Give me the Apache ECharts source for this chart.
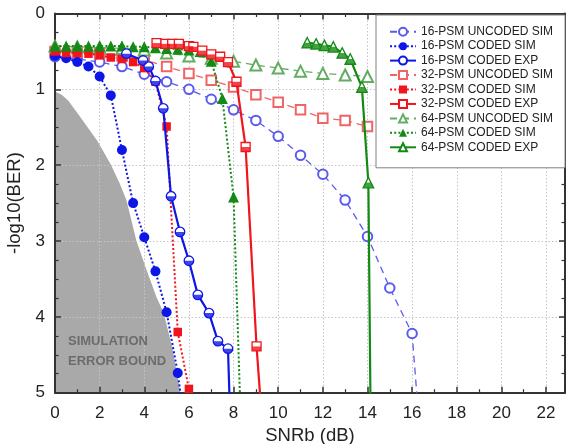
<!DOCTYPE html>
<html><head><meta charset="utf-8">
<script src="https://cdn.jsdelivr.net/npm/echarts@6/dist/echarts.min.js"></script>
<style>html,body{margin:0;padding:0;background:#fff}#c{width:566px;height:444px}</style>
</head><body><div id="c"></div>
<script>
// ---- tick labels ----
const xTickLabels = ['0','2','4','6','8','10','12','14','16','18','20','22'];
const yTickLabels = ['0','1','2','3','4','5'];

// ---- simulation error bound (gray region boundary) ----
const boundX = [0, 0.3, 0.6, 1.1, 1.9, 2.5, 2.9, 3.2, 3.65, 4.1, 4.55, 4.87, 5.25, 5.62];
const boundY = [1.03, 1.07, 1.15, 1.35, 1.68, 1.99, 2.24, 2.46, 3.0, 3.38, 3.74, 3.95, 4.4, 5.0];

// ---- 16-PSM ----
const u16X = [0,1,2,3,4,5,6,7,8,9,10,11,12,13,14,15,16,17];
const u16Y = [0.57,0.6,0.64,0.7,0.8,0.9,1.0,1.13,1.27,1.41,1.62,1.87,2.12,2.46,2.94,3.62,4.22,8.0];
const c16X = [0,0.5,1,1.5,2,2.5,3,3.5,4,4.5,5,5.5,6];
const c16Y = [0.56,0.59,0.64,0.70,0.83,1.08,1.80,2.50,2.95,3.40,3.94,4.74,5.82];
const e16X = [3.2,3.95,4.2,4.5,4.85,5.2,5.6,6.0,6.4,6.9,7.3,7.75,7.92];
const e16Y = [0.53,0.62,0.7,0.89,1.25,2.41,2.88,3.26,3.71,3.95,4.32,4.42,6.0];

// ---- 32-PSM ----
const u32X = [0,1,2,3,4,5,6,7,8,9,10,11,12,13,14];
const u32Y = [0.5,0.51,0.53,0.56,0.61,0.7,0.79,0.88,0.97,1.07,1.17,1.27,1.38,1.41,1.49];
const c32X = [0,0.5,1,1.5,2,2.5,3,3.5,4,4.5,5,5.5,6];
const c32Y = [0.5,0.52,0.52,0.53,0.55,0.58,0.6,0.64,0.72,0.9,1.49,4.2,4.95];
const e32X = [4.55,4.95,5.25,5.55,6.0,6.2,6.6,7.0,7.4,7.75,8.13,8.54,9.03,9.43];
const e32Y = [0.39,0.4,0.4,0.4,0.43,0.44,0.49,0.54,0.57,0.64,0.9,1.76,4.39,6.0];

// ---- 64-PSM ----
const u64X = [0,1,2,3,4,5,6,7,8,9,10,11,12,13,14];
const u64Y = [0.43,0.44,0.45,0.46,0.48,0.52,0.56,0.59,0.63,0.68,0.72,0.76,0.79,0.81,0.83];
const c64X = [0,0.5,1,1.5,2,2.5,3,3.5,4,4.5,5,5.5,6,6.5,7,7.5,8,8.5];
const c64Y = [0.43,0.43,0.43,0.43,0.43,0.43,0.43,0.44,0.44,0.45,0.46,0.47,0.48,0.5,0.63,1.12,2.42,7.0];
const e64X = [11.3,11.7,12.07,12.47,12.87,13.23,13.75,14.04,14.17];
const e64Y = [0.385,0.4,0.42,0.44,0.52,0.6,0.97,2.23,6.2];

const names = ['16-PSM UNCODED SIM','16-PSM CODED SIM','16-PSM CODED EXP',
               '32-PSM UNCODED SIM','32-PSM CODED SIM','32-PSM CODED EXP',
               '64-PSM UNCODED SIM','64-PSM CODED SIM','64-PSM CODED EXP'];

const FONT = '"Liberation Sans", Arial, sans-serif';
const BLUE='#0c16e6', RED='#f0141c', GREEN='#138a13';
const BLUE_L='#5a5aee', RED_L='#ef6464', GREEN_L='#62ad62';
const pts = (xs, ys) => xs.map((x, i) => [x, ys[i]]);

function halfDisk(){
  let s = 'path://M20,0';
  for (let i = 1; i <= 16; i++) { const t = Math.PI * i / 16; s += ' L' + (10 + 10*Math.cos(t)).toFixed(3) + ',' + (10*Math.sin(t)).toFixed(3); }
  return s + ' Z';
}
const HALF = { circle: halfDisk(), rect: 'path://M0,0 L20,0 L20,10 L0,10 Z', triangle: 'path://M5,0 L15,0 L20,10 L0,10 Z' };

function uncoded(name, xs, ys, color, sym){
  return { name, type:'line', data: pts(xs, ys), symbol: 'empty' + sym[0].toUpperCase() + sym.slice(1), symbolSize: sym==='triangle'?11:9.5,
    lineStyle:{color, width:1.3, type:[7,5]}, itemStyle:{color, borderWidth:1.1}, z:2 };
}
function codedSim(name, xs, ys, color, sym, size){
  return { name, type:'line', data: pts(xs, ys), symbol: sym, symbolSize: size,
    lineStyle:{color, width:2, type:[2,2.2]}, itemStyle:{color}, z:3 };
}
function codedExp(name, xs, ys, color, sym, size){
  return [
    { name, type:'line', data: pts(xs, ys), symbol: sym, symbolSize: size,
      lineStyle:{color, width:2.2, type:'solid'}, itemStyle:{color:'#fff', borderColor:color, borderWidth:1.3}, z:4 },
    { name: name + ' (fill)', type:'scatter', data: pts(xs, ys), symbol: HALF[sym], symbolSize:[size, size/2],
      symbolOffset:[0, size/4], itemStyle:{color}, z:5, silent:true }
  ];
}

const series = [
  { name:'bound', type:'line', data: pts(boundX, boundY), symbol:'none', lineStyle:{width:0},
    areaStyle:{color:'#a9a9a9', opacity:1, origin:'end'}, z:-1, silent:true },
  uncoded(names[0], u16X, u16Y, BLUE_L, 'circle'),
  codedSim(names[1], c16X, c16Y, BLUE, 'circle', 10),
  ...codedExp(names[2], e16X, e16Y, BLUE, 'circle', 9.5),
  uncoded(names[3], u32X, u32Y, RED_L, 'rect'),
  codedSim(names[4], c32X, c32Y, RED, 'rect', 8.5),
  ...codedExp(names[5], e32X, e32Y, RED, 'rect', 9),
  uncoded(names[6], u64X, u64Y, GREEN_L, 'triangle'),
  codedSim(names[7], c64X, c64Y, GREEN, 'triangle', 11),
  ...codedExp(names[8], e64X, e64Y, GREEN, 'triangle', 10.5),
];

const axisCommon = {
  axisLine:{show:true, onZero:false, lineStyle:{color:'#333', width:2}},
  axisTick:{show:true, inside:true, length:6, lineStyle:{color:'#333', width:1.5}},
  minorTick:{show:true, length:3.5, lineStyle:{color:'#333', width:1.2}},
};

const chart = echarts.init(document.getElementById('c'), null, {renderer:'canvas'});
chart.setOption({
  animation:false,
  backgroundColor:'#fff',
  textStyle:{fontFamily:FONT},
  grid:{left:55, top:13.5, right:1, bottom:51.3, containLabel:false, outerBoundsMode:'none'},
  xAxis:[
    Object.assign({type:'value', min:0, max:22.85, interval:2, position:'bottom',
      name:'SNRb (dB)', nameLocation:'middle', nameGap:34,
      nameTextStyle:{fontSize:18.5, color:'#222', fontFamily:FONT},
      axisLabel:{fontSize:17, color:'#222', margin:12, fontFamily:FONT, showMaxLabel:false,
        formatter: v => xTickLabels.includes(String(v)) ? String(v) : ''},
      splitLine:{show:true, lineStyle:{color:'#c4c4c4', type:[1.5,2], width:1}}}, axisCommon,
      {minorTick:Object.assign({}, axisCommon.minorTick, {splitNumber:2})}),
    Object.assign({type:'value', min:0, max:22.85, interval:2, position:'top',
      axisLabel:{show:false}, splitLine:{show:false}}, axisCommon,
      {minorTick:Object.assign({}, axisCommon.minorTick, {splitNumber:2})})
  ],
  yAxis:[
    Object.assign({type:'value', min:0, max:5, interval:1, inverse:true, position:'left',
      name:'-log10(BER)', nameLocation:'middle', nameGap:28, nameRotate:90,
      nameTextStyle:{fontSize:18.5, color:'#222', fontFamily:FONT},
      axisLabel:{fontSize:17, color:'#222', margin:10, fontFamily:FONT,
        formatter: v => yTickLabels.includes(String(v)) ? String(v) : ''},
      splitLine:{show:true, lineStyle:{color:'#c4c4c4', type:[1.5,2], width:1}}}, axisCommon,
      {minorTick:Object.assign({}, axisCommon.minorTick, {splitNumber:4})}),
    Object.assign({type:'value', min:0, max:5, interval:1, inverse:true, position:'right',
      axisLabel:{show:false}, splitLine:{show:false}}, axisCommon,
      {minorTick:Object.assign({}, axisCommon.minorTick, {splitNumber:4})})
  ],
  legend:{
    orient:'vertical', left:376, top:15, data:names, selectedMode:false,
    itemWidth:26, itemHeight:10, itemGap:2.45,
    padding:[10.7, 12, 14.5, 13],
    backgroundColor:'#fff', borderColor:'#808080', borderWidth:1,
    textStyle:{fontSize:12, color:'#222', fontFamily:FONT}
  },
  graphic:[
    {type:'text', left:68, top:335, z:10, silent:true,
      style:{text:'SIMULATION', font:'bold 13px "Liberation Sans", Arial, sans-serif', fill:'#6c6c6c'}},
    {type:'text', left:68, top:355, z:10, silent:true,
      style:{text:'ERROR BOUND', font:'bold 13px "Liberation Sans", Arial, sans-serif', fill:'#6c6c6c'}}
  ],
  series
});
</script>
</body></html>
